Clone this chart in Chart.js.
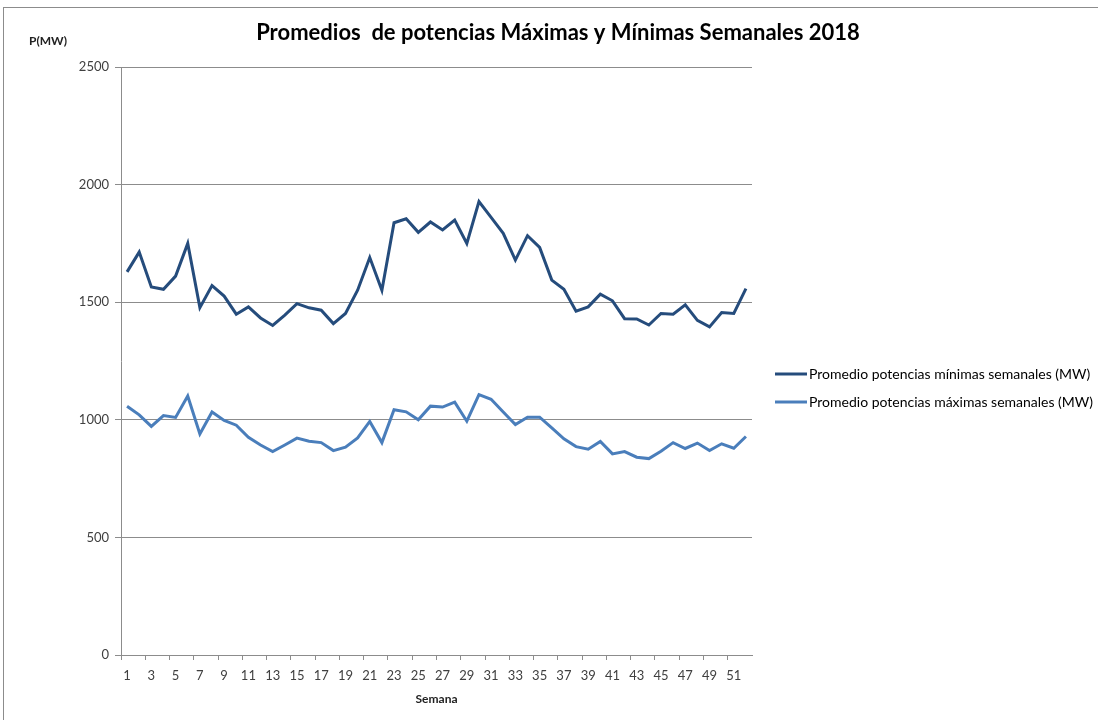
<!DOCTYPE html>
<html>
<head>
<meta charset="utf-8">
<script src="https://cdn.jsdelivr.net/npm/chart.js@4"></script>
<style>
  html, body { margin: 0; padding: 0; background: #fff; }
  #wrap { width: 1098px; height: 720px; position: relative; }
</style>
</head>
<body>
<div id="wrap"><canvas id="potChart" width="1098" height="720"></canvas></div>
<script>
// semanas 1..52
const weeks = [];
for (let w = 1; w <= 52; w++) weeks.push(String(w));

const darkSeries = [
  1629, 1713, 1565, 1555, 1611, 1750, 1477, 1571, 1526, 1449,
  1480, 1433, 1401, 1445, 1494, 1476, 1466, 1409, 1452, 1551,
  1690, 1551, 1838, 1855, 1797, 1841, 1807, 1849, 1750, 1928,
  1861, 1793, 1679, 1783, 1733, 1594, 1555, 1462, 1480, 1534,
  1506, 1430, 1429, 1403, 1452, 1449, 1489, 1423, 1395, 1456,
  1452, 1558
];
const lightSeries = [
  1058, 1021, 972, 1018, 1010, 1101, 940, 1033, 997, 977,
  926, 893, 865, 893, 922, 909, 903, 869, 884, 923,
  993, 903, 1043, 1034, 1000, 1058, 1054, 1075, 994, 1107,
  1087, 1033, 980, 1011, 1011, 966, 919, 886, 875, 908,
  855, 865, 841, 835, 866, 903, 878, 901, 869, 898,
  879, 929
];
const yTicks = [0, 500, 1000, 1500, 2000, 2500];

const FONT = 'Lato, "Open Sans", sans-serif';
const TXT = '#404040';

// titulo, etiqueta P(MW), leyenda y marco
const extras = {
  id: 'extras',
  afterDraw(chart) {
    const ctx = chart.ctx;
    ctx.save();
    ctx.strokeStyle = '#8c8c8c';
    ctx.lineWidth = 1;
    ctx.strokeRect(3.5, 7.5, 1300, 900);

    ctx.fillStyle = '#000';
    ctx.font = 'bold 22px ' + FONT;
    ctx.textAlign = 'center';
    ctx.textBaseline = 'middle';
    ctx.fillText('Promedios  de potencias Máximas y Mínimas Semanales 2018', 558, 33);

    ctx.font = 'bold 12px ' + FONT;
    ctx.fillStyle = '#222';
    ctx.textAlign = 'left';
    ctx.fillText('P(MW)', 29, 41);

    ctx.font = '14px ' + FONT;
    ctx.fillStyle = '#000';
    chart.data.datasets.forEach((ds, i) => {
      const y = 374 + i * 28;
      ctx.strokeStyle = ds.borderColor;
      ctx.lineWidth = 3;
      ctx.beginPath();
      ctx.moveTo(775, y);
      ctx.lineTo(807, y);
      ctx.stroke();
      ctx.fillText(ds.label, 809, y);
    });
    ctx.restore();
  }
};

new Chart(document.getElementById('potChart'), {
  type: 'line',
  data: {
    labels: weeks,
    datasets: [
      {
        label: 'Promedio potencias mínimas semanales (MW)',
        data: darkSeries,
        borderColor: '#254C7C',
        borderWidth: 3,
        pointRadius: 0,
        tension: 0
      },
      {
        label: 'Promedio potencias máximas semanales (MW)',
        data: lightSeries,
        borderColor: '#4A7EBB',
        borderWidth: 3,
        pointRadius: 0,
        tension: 0
      }
    ]
  },
  options: {
    responsive: false,
    animation: false,
    layout: { padding: { left: 0, top: 67, right: 346, bottom: 0 } },
    scales: {
      x: {
        offset: true,
        afterFit: s => { s.height = 65; },
        grid: {
          offset: true,
          drawOnChartArea: false,
          tickLength: 5,
          color: c => (c.index % 2 === 0 ? '#8c8c8c' : 'rgba(0,0,0,0)')
        },
        border: { color: '#8c8c8c' },
        ticks: {
          autoSkip: false,
          maxRotation: 0,
          padding: 8,
          color: TXT,
          font: { family: FONT, size: 13 },
          callback: (v, i) => (i % 2 === 0 ? weeks[i] : '')
        },
        title: {
          display: true,
          text: 'Semana',
          color: '#222',
          font: { family: FONT, size: 12, weight: 'bold' },
          padding: { top: 8, bottom: 14 }
        }
      },
      y: {
        min: 0,
        max: 2500,
        afterFit: s => { s.width = 121; },
        afterBuildTicks: s => { s.ticks = yTicks.map(v => ({ value: v })); },
        grid: { color: '#8c8c8c', tickLength: 6 },
        border: { color: '#8c8c8c' },
        ticks: {
          padding: 6,
          color: TXT,
          font: { family: FONT, size: 13 },
          callback: v => String(v)
        }
      }
    },
    plugins: {
      legend: { display: false },
      title: { display: false },
      tooltip: { enabled: false }
    }
  },
  plugins: [extras]
});
</script>
</body>
</html>
